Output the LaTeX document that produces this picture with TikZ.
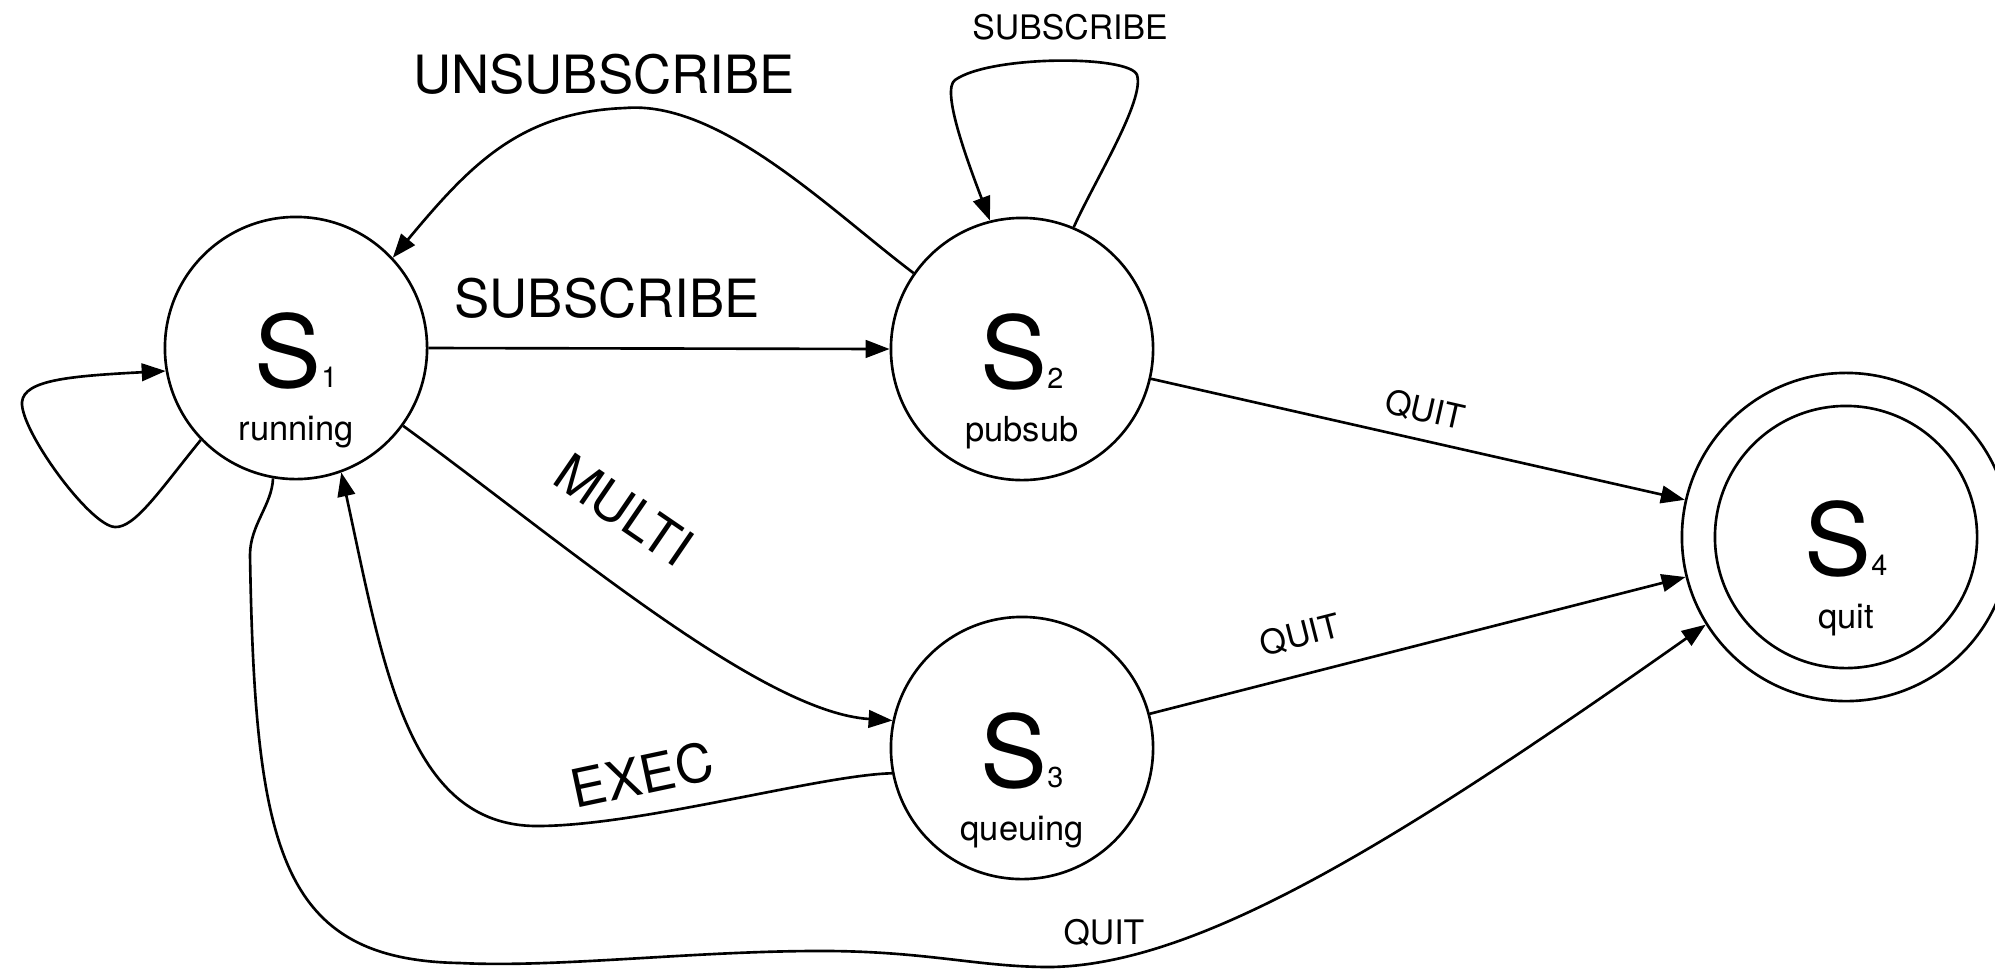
\documentclass[tikz,border=0pt]{standalone}
\usepackage{fontspec}
\setmainfont{TeX Gyre Heros}
\usetikzlibrary{arrows.meta}
\newcommand\subnum[1]{{\fontsize{8.2pt}{9pt}\selectfont #1}}
\begin{document}
\begin{tikzpicture}[x=0.01cm,y=-0.01cm,line width=0.75pt,
  state/.style={circle,draw,minimum size=2.62cm,inner sep=0pt},
  final/.style={circle,draw,minimum size=3.28cm,inner sep=0pt},
  tr/.style={-{Triangle[length=6.8pt,width=5pt]}},
  statesym/.style={anchor=base,inner sep=0pt,font=\fontsize{28.5pt}{30pt}\selectfont},
  statename/.style={anchor=base,inner sep=0pt,font=\fontsize{9.8pt}{11pt}\selectfont},
  biglbl/.style={inner sep=0pt,font=\fontsize{15pt}{17pt}\selectfont},
  smalllbl/.style={inner sep=0pt,font=\fontsize{9.6pt}{11pt}\selectfont}]
\clip (0,0) rectangle (1995,969);

% states
\node[state] (S1) at (296,348) {};
\node[state] (S2) at (1022,349) {};
\node[state] (S3) at (1022,748) {};
\node[final] (S4) at (1846,537) {};
\node[state] (S4i) at (1846,537) {};

\node[statesym] (S1s) at (296,387) {S\subnum{1}};
\node[statename] (S1n) at (296,440) {running};
\node[statesym] (S2s) at (1022,388) {S\subnum{2}};
\node[statename] (S2n) at (1022,441) {pubsub};
\node[statesym] (S3s) at (1022,787) {S\subnum{3}};
\node[statename] (S3n) at (1022,840) {queuing};
\node[statesym] (S4s) at (1846,575) {S\subnum{4}};
\node[statename] (S4n) at (1846,628) {quit};

% transitions
\draw[tr] (S1.east) -- (S2.west);
\draw[tr] (S2.145) .. controls (830,210) and (720,100) .. (625,108)
  .. controls (520,112) and (470,165) .. (S1.43);
\draw[tr] (S2.67) .. controls (1095,180) and (1145,100) .. (1137,75)
  .. controls (1130,55) and (990,55) .. (955,80)
  .. controls (941,90) and (967,160) .. (S2.104);
\draw[tr] (S1.224) .. controls (160,490) and (135,528) .. (115,527)
  .. controls (90,526) and (20,430) .. (22,402)
  .. controls (24,380) and (70,376) .. (S1.190);
\draw[tr] (S1.-36) .. controls (560,540) and (760,712) .. (S3.168);
\draw[tr] (S3.191) .. controls (820,775) and (640,826) .. (537,826)
  .. controls (407,826) and (383,664) .. (S1.-70);
\draw[tr] (S1.260) .. controls (272,505) and (250,525) .. (250,555)
  .. controls (255,850) and (280,960) .. (460,963)
  .. controls (560,968) and (700,950) .. (831,951)
  .. controls (930,952) and (980,967) .. (1050,967)
  .. controls (1200,965) and (1400,840) .. (S4.212);
\draw[tr] (S2.-13) -- (S4.167);
\draw[tr] (S3.15) -- (S4.194);

% labels
\node[biglbl] (lsub) at (607,298) {SUBSCRIBE};
\node[biglbl] (lunsub) at (604,74) {UNSUBSCRIBE};
\node[smalllbl] (lsubself) at (1070,27) {SUBSCRIBE};
\node[biglbl,rotate=-34.4] (lmulti) at (624,510) {MULTI};
\node[biglbl,rotate=12] (lexec) at (642,775) {EXEC};
\node[smalllbl,rotate=-12.8] (lquitA) at (1425,410) {QUIT};
\node[smalllbl,rotate=14.3] (lquitB) at (1300,635) {QUIT};
\node[smalllbl] (lquitC) at (1104,933) {QUIT};
\end{tikzpicture}
\end{document}
